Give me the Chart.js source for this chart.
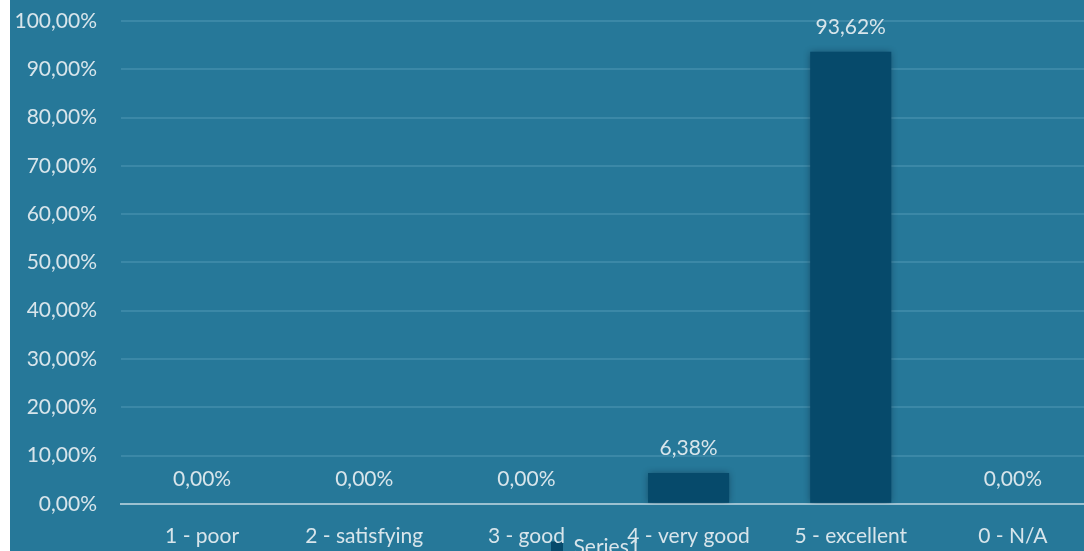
<!DOCTYPE html>
<html>
<head>
<meta charset="utf-8">
<script src="https://cdn.jsdelivr.net/npm/chart.js@4.4.0/dist/chart.umd.min.js"></script>
<style>
  html, body { margin: 0; padding: 0; background: #ffffff; overflow: hidden; }
  #wrap { position: absolute; left: 10px; top: 0; width: 1084px; height: 551px; overflow: hidden; background: #267899; }
  #box { position: absolute; left: 0; top: 0; width: 1084px; height: 571px; }
</style>
</head>
<body>
<div id="wrap"><div id="box"><canvas id="chartCanvas"></canvas></div></div>
<script>
const categories = ['1 - poor', '2 - satisfying', '3 - good', '4 - very good', '5 - excellent', '0 - N/A'];
const seriesValues = [0, 0, 0, 6.38, 93.62, 0];
const yTicks = [0, 10, 20, 30, 40, 50, 60, 70, 80, 90, 100];

const textColor = '#d8e5eb';
const fontFamily = 'Lato';
const fmt = v => v.toFixed(2).replace('.', ',') + '%';

// bar shadow
const shadowPlugin = {
  id: 'barShadow',
  beforeDatasetsDraw(chart) {
    const ctx = chart.ctx;
    ctx.save();
    ctx.shadowColor = 'rgba(0, 20, 35, 0.45)';
    ctx.shadowBlur = 7;
  },
  afterDatasetsDraw(chart) {
    chart.ctx.restore();
  }
};

// value labels above bars
const valueLabels = {
  id: 'valueLabels',
  afterDatasetsDraw(chart) {
    const ctx = chart.ctx;
    const meta = chart.getDatasetMeta(0);
    ctx.save();
    ctx.fillStyle = textColor;
    ctx.font = '21px ' + fontFamily;
    ctx.textAlign = 'center';
    ctx.textBaseline = 'middle';
    meta.data.forEach((bar, i) => {
      ctx.fillText(fmt(seriesValues[i]), bar.x, bar.y - 25);
    });
    ctx.restore();
  }
};

// the legend sits over the category labels, like in the excel export
const legendOverlap = {
  id: 'legendOverlap',
  afterLayout(chart) {
    const l = chart.legend;
    l.top = 531;
    l.bottom = 531 + 40;
    l.left += 44;
    l.right += 44;
  }
};

new Chart(document.getElementById('chartCanvas'), {
  type: 'bar',
  data: {
    labels: categories,
    datasets: [{
      label: 'Series1',
      data: seriesValues,
      backgroundColor: '#064a6b',
      barPercentage: 0.5,
      categoryPercentage: 1
    }]
  },
  options: {
    responsive: true,
    maintainAspectRatio: false,
    animation: false,
    layout: { padding: { top: 21, right: 0, left: 0, bottom: 0 } },
    plugins: {
      legend: {
        position: 'bottom',
        maxHeight: 2,
        labels: {
          color: textColor,
          font: { family: fontFamily, size: 21 },
          boxWidth: 12,
          boxHeight: 12,
          padding: 6
        }
      },
      tooltip: { enabled: false }
    },
    scales: {
      x: {
        grid: { display: false, drawTicks: false },
        border: { display: true, color: '#9cc1d1', width: 2 },
        ticks: { color: textColor, font: { family: fontFamily, size: 21 }, padding: 20, maxRotation: 0, autoSkip: false }
      },
      y: {
        min: 0,
        max: 100,
        afterBuildTicks(scale) { scale.ticks = yTicks.map(v => ({ value: v })); },
        grid: { color: '#3b88a7', lineWidth: 2, drawTicks: false },
        border: { display: false },
        ticks: { color: textColor, font: { family: fontFamily, size: 21 }, padding: 24, callback: v => fmt(v) },
        afterFit(scale) {
          scale.width = 111;
          scale.paddingTop = 0;
          scale.paddingBottom = 0;
        }
      }
    }
  },
  plugins: [shadowPlugin, valueLabels, legendOverlap]
});
</script>
</body>
</html>
